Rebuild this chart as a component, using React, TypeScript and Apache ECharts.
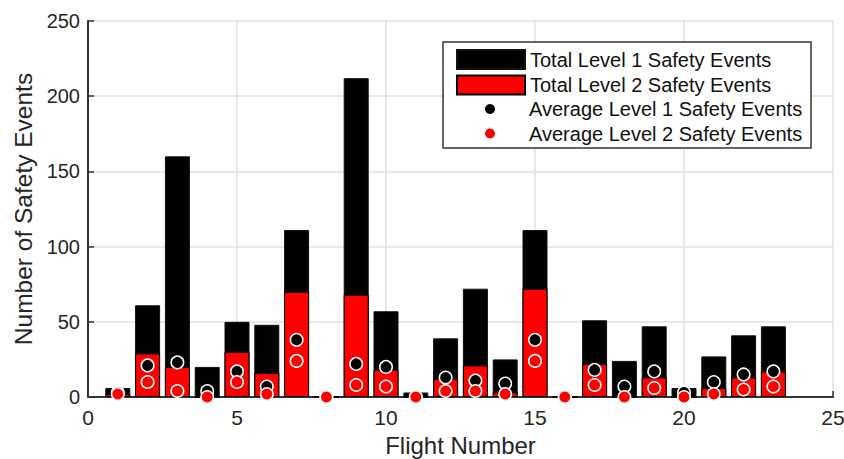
import React, { useEffect, useRef } from "react";
import * as echarts from "echarts";

const flights = [1, 2, 3, 4, 5, 6, 7, 8, 9, 10, 11, 12, 13, 14, 15, 16, 17, 18, 19, 20, 21, 22, 23];
const totalLevel1 = [6, 61, 160, 20, 50, 48, 111, 0, 212, 57, 3, 39, 72, 25, 111, 0, 51, 24, 47, 6, 27, 41, 47];
const totalLevel2 = [2, 29, 20, 0, 30, 16, 70, 0, 68, 18, 0, 12, 21, 3, 72, 0, 22, 0, 13, 0, 6, 13, 17];
const avgLevel1 = [3, 21, 23, 4, 17, 7, 38, 0, 22, 20, 0, 13, 11, 9, 38, 0, 18, 7, 17, 3, 10, 15, 17];
const avgLevel2 = [2, 10, 4, 0, 10, 2, 24, 0, 8, 7, 0, 4, 4, 2, 24, 0, 8, 0, 6, 0, 2, 5, 7];

const xTicks = { min: 0, max: 25, interval: 5 };
const yTicks = { min: 0, max: 250, interval: 50 };

const seriesNames = [
  "Total Level 1 Safety Events",
  "Total Level 2 Safety Events",
  "Average Level 1 Safety Events",
  "Average Level 2 Safety Events",
];

const FONT = "'Liberation Sans', Arial, Helvetica, sans-serif";
const TXT = "#262626";

export default function App() {
  const ref = useRef<HTMLDivElement>(null);
  useEffect(() => {
    if (!ref.current) return;
    const chart = echarts.init(ref.current, undefined, { renderer: "svg" });
    const pair = (ys: number[]) => flights.map((f, i) => [f, ys[i]]);
    chart.setOption({
      animation: false,
      backgroundColor: "#fff",
      textStyle: { fontFamily: FONT },
      grid: { left: 88, top: 21, right: 11, bottom: 62, containLabel: false, outerBoundsMode: "none" },
      xAxis: {
        type: "value",
        min: xTicks.min,
        max: xTicks.max,
        interval: xTicks.interval,
        name: "Flight Number",
        nameLocation: "middle",
        nameGap: 36,
        nameTextStyle: { fontSize: 24, color: TXT, fontFamily: FONT },
        axisLine: { show: true, onZero: false, lineStyle: { color: "#333", width: 2 } },
        axisTick: { show: true, inside: true, length: 6, lineStyle: { color: "#333", width: 1.5 } },
        axisLabel: { fontSize: 21, color: TXT, margin: 10, fontFamily: FONT },
        splitLine: { show: true, lineStyle: { color: "#e0e0e0", width: 1.5 } },
      },
      yAxis: {
        type: "value",
        min: yTicks.min,
        max: yTicks.max,
        interval: yTicks.interval,
        name: "Number of Safety Events",
        nameLocation: "middle",
        nameGap: 52,
        nameTextStyle: { fontSize: 24.5, color: TXT, fontFamily: FONT },
        axisLine: { show: true, lineStyle: { color: "#333", width: 2 } },
        axisTick: { show: true, inside: true, length: 6, lineStyle: { color: "#333", width: 1.5 } },
        axisLabel: { fontSize: 20, color: TXT, margin: 8, fontFamily: FONT },
        splitLine: { show: true, lineStyle: { color: "#e0e0e0", width: 1.5 } },
      },
      legend: [
        {
          data: [seriesNames[0], seriesNames[1]],
          orient: "vertical",
          left: 456,
          top: 49,
          padding: 0,
          itemWidth: 68,
          itemHeight: 19,
          itemGap: 4.5,
          icon: "rect",
          selectedMode: false,
          textStyle: { fontSize: 20, lineHeight: 20, color: "#111", fontFamily: FONT },
          z: 5,
        },
        {
          data: [seriesNames[2], seriesNames[3]],
          orient: "vertical",
          left: 485,
          top: 99,
          padding: 0,
          itemWidth: 68,
          itemHeight: 10,
          itemGap: 4.5,
          icon: "circle",
          selectedMode: false,
          itemStyle: { borderWidth: 0 },
          textStyle: { fontSize: 20, lineHeight: 20, color: "#111", fontFamily: FONT },
          z: 5,
        },
      ],
      graphic: [
        {
          type: "rect",
          z: 3,
          shape: { x: 443, y: 42, width: 368, height: 106 },
          style: { fill: "#fff", stroke: "#333", lineWidth: 1.5 },
        },
      ],
      series: [
        {
          name: seriesNames[0],
          type: "bar",
          data: pair(totalLevel1),
          barWidth: 25,
          barGap: "-100%",
          itemStyle: { color: "#000", borderColor: "#111", borderWidth: 1 },
          z: 2,
        },
        {
          name: seriesNames[1],
          type: "bar",
          data: pair(totalLevel2),
          barWidth: 25,
          barGap: "-100%",
          itemStyle: { color: "#ff0000", borderColor: "#000", borderWidth: 1 },
          z: 3,
        },
        {
          name: seriesNames[2],
          type: "scatter",
          data: pair(avgLevel1),
          symbol: "circle",
          symbolSize: 12.5,
          clip: false,
          itemStyle: { color: "#000", borderColor: "#fff", borderWidth: 1.5, opacity: 1 },
          z: 4,
        },
        {
          name: seriesNames[3],
          type: "scatter",
          data: pair(avgLevel2),
          symbol: "circle",
          symbolSize: 12.5,
          clip: false,
          itemStyle: { color: "#ff0000", borderColor: "#fff", borderWidth: 1.5, opacity: 1 },
          z: 5,
        },
      ],
    });
    return () => chart.dispose();
  }, []);
  return (
    <div
      ref={ref}
      style={{ position: "fixed", left: 0, top: 0, width: 844, height: 459 }}
    />
  );
}
